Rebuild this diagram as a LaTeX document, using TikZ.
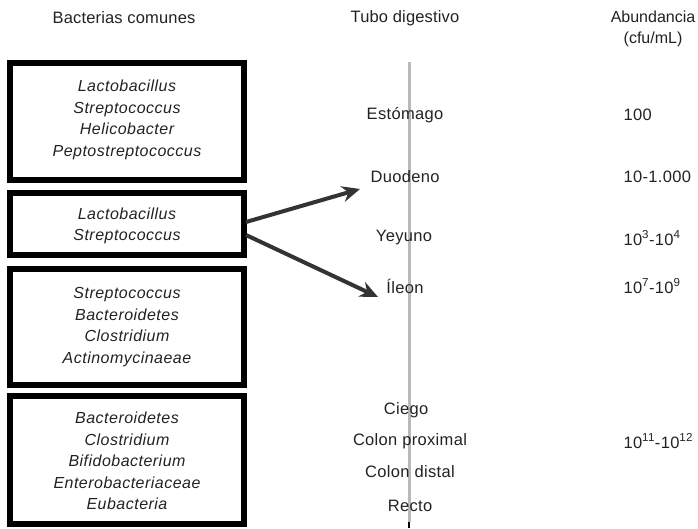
\documentclass[tikz,border=0pt]{standalone}
\usepackage{fontspec}
\setmainfont{Liberation Sans}
\usetikzlibrary{arrows.meta}
\definecolor{txt}{HTML}{222222}
\begin{document}
\begin{tikzpicture}[x=1pt,y=-1pt,
  every node/.style={text=txt,font=\fontsize{14}{21.6}\selectfont},
  bbox/.style={draw=black,line width=6pt},
  bact/.style={font=\fontsize{16}{21.6}\selectfont\addfontfeatures{LetterSpace=3}\itshape,align=center},
  part/.style={anchor=center,font=\fontsize{16.5}{17}\selectfont\addfontfeatures{LetterSpace=2}},
  num/.style={anchor=west,font=\fontsize{16.5}{17}\selectfont\addfontfeatures{LetterSpace=2}},
  hdr/.style={font=\fontsize{16.5}{21}\selectfont\addfontfeatures{LetterSpace=1},align=center},
  arr/.style={draw=black!80,line width=4pt,-{Stealth[length=18pt,width=16pt,inset=6pt]}}]
\useasboundingbox (0,0) rectangle (698,528);
% headers
\node[hdr] (h1) at (124,18) {Bacterias comunes};
\node[hdr] (h2) at (405,18) {Tubo digestivo};
\node[hdr,anchor=north,font=\fontsize{16}{21}\selectfont] (h3) at (653,7) {Abundancia\\(cfu/mL)};
% tube
\draw[gray!55,line width=3pt] (409,62) coordinate (t1) -- (409,522) coordinate (t2);
\draw[black,line width=2pt] (t2) -- (409,528);
% boxes
\draw[bbox] (10,63) rectangle (244,180);
\draw[bbox] (10,193) rectangle (244,255);
\draw[bbox] (10,269) rectangle (244,385);
\draw[bbox] (10,396) rectangle (244,524);
\node[bact] (b1) at (127,120) {Lactobacillus\\Streptococcus\\Helicobacter\\Peptostreptococcus};
\node[bact] (b2) at (127,226) {Lactobacillus\\Streptococcus};
\node[bact] (b3) at (127,327) {Streptococcus\\Bacteroidetes\\Clostridium\\Actinomycinaeae};
\node[bact] (b4) at (127,461) {Bacteroidetes\\Clostridium\\Bifidobacterium\\Enterobacteriaceae\\Eubacteria};
% parts
\node[part] (p1) at (405,115) {Estómago};
\node[part] (p2) at (405,177) {Duodeno};
\node[part] (p3) at (404,238) {Yeyuno};
\node[part] (p4) at (405,286) {Íleon};
\node[part] (p5) at (406,410) {Ciego};
\node[part] (p6) at (410,441) {Colon proximal};
\node[part] (p7) at (410,472) {Colon distal};
\node[part] (p8) at (410,506) {Recto};
% abundance
\node[num] (n1) at (620,115) {100};
\node[num] (n2) at (620,177) {10-1.000};
\node[num] (n3) at (620,238) {10\textsuperscript{3}-10\textsuperscript{4}};
\node[num] (n4) at (620,286) {10\textsuperscript{7}-10\textsuperscript{9}};
\node[num] (n5) at (620,441) {10\textsuperscript{11}-10\textsuperscript{12}};
% arrows
\coordinate (s1) at (246,222);
\coordinate (s2) at (246,235);
\coordinate (e1) at (360,189);
\coordinate (e2) at (378,297);
\draw[arr] (s1) -- (e1);
\draw[arr] (s2) -- (e2);
\end{tikzpicture}
\end{document}
